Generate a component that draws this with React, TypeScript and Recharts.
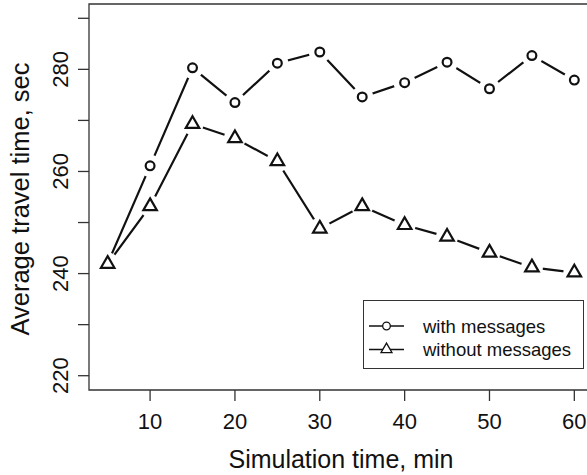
import { LineChart, Line, XAxis, YAxis, ReferenceArea, Legend } from "recharts";

// simulation time (min)
const times = [5, 10, 15, 20, 25, 30, 35, 40, 45, 50, 55, 60];
// average travel time (sec)
const withMessages = [242.0, 261.1, 280.3, 273.5, 281.2, 283.4, 274.6, 277.4, 281.4, 276.2, 282.7, 277.9];
const withoutMessages = [241.9, 253.2, 269.3, 266.5, 262.0, 248.8, 253.2, 249.5, 247.2, 244.1, 241.2, 240.2];

const xTicks = [10, 20, 30, 40, 50, 60];
const yTicks = [220, 230, 240, 250, 260, 270, 280, 290];
const yLabelled = [220, 240, 260, 280];

const data = times.map((t, i) => ({
  t,
  withMsg: withMessages[i],
  withoutMsg: withoutMessages[i],
}));

const FONT = "'Liberation Sans', Arial, Helvetica, sans-serif";
const INK = "#111";

function trianglePath(cx: number, cy: number, w: number) {
  // R-style pch=2: point sits 2/3 of the way down
  const h = (w * Math.sqrt(3)) / 2;
  return `M${cx},${cy - (2 * h) / 3} L${cx + w / 2},${cy + h / 3} L${cx - w / 2},${cy + h / 3} Z`;
}

function CircleDot(props: any) {
  const { cx, cy } = props;
  if (cx == null || cy == null) return null;
  return (
    <g>
      <circle cx={cx} cy={cy} r={11} fill="#fff" />
      <circle cx={cx} cy={cy} r={4.4} fill="#fff" stroke={INK} strokeWidth={2.2} />
    </g>
  );
}

function TriangleDot(props: any) {
  const { cx, cy } = props;
  if (cx == null || cy == null) return null;
  return (
    <g>
      <circle cx={cx} cy={cy} r={11} fill="#fff" />
      <path d={trianglePath(cx, cy, 13.5)} fill="none" stroke={INK} strokeWidth={2.2} strokeLinejoin="miter" />
    </g>
  );
}

function YTick(props: any) {
  const { y, payload } = props;
  if (!yLabelled.includes(payload.value)) return null;
  const x = 68.5;
  return (
    <text
      x={x}
      y={y}
      transform={`rotate(-90, ${x}, ${y})`}
      textAnchor="middle"
      fontSize={22}
      fontFamily={FONT}
      fill={INK}
    >
      {payload.value}
    </text>
  );
}

function XTick(props: any) {
  const { x, payload } = props;
  return (
    <text x={x} y={429} textAnchor="middle" fontSize={22} fontFamily={FONT} fill={INK}>
      {payload.value}
    </text>
  );
}

function LegendBox(props: any) {
  const items = props.payload || [];
  return (
    <div
      style={{
        width: 219,
        height: 67,
        border: "1.3px solid #333",
        background: "#fff",
        position: "relative",
        fontFamily: FONT,
      }}
    >
      <svg width={219} height={67} style={{ position: "absolute", left: 0, top: 0 }}>
        {items.map((it: any, i: number) => {
          const cy = 25 + i * 23.5;
          return (
            <g key={it.value}>
              <line x1={5} x2={40} y1={cy} y2={cy} stroke={INK} strokeWidth={1.3} />
              {it.dataKey === "withMsg" ? (
                <circle cx={22.5} cy={cy} r={3.8} fill="#fff" stroke={INK} strokeWidth={1.3} />
              ) : (
                <path d={trianglePath(22.5, cy, 11)} fill="#fff" stroke={INK} strokeWidth={1.3} />
              )}
              <text x={59} y={cy + 6.5} fontSize={18.5} fontFamily={FONT} fill={INK}>
                {it.value}
              </text>
            </g>
          );
        })}
      </svg>
    </div>
  );
}

export default function App() {
  return (
    <div
      style={{
        position: "absolute",
        left: 0,
        top: 0,
        width: 587,
        height: 475,
        overflow: "hidden",
        background: "#fff",
      }}
    >
      <LineChart width={600} height={475} data={data} margin={{ top: 4, right: 7, bottom: 0, left: 0 }}>
        <XAxis
          dataKey="t"
          type="number"
          domain={[2.8, 62.2]}
          ticks={xTicks}
          allowDataOverflow
          axisLine={false}
          tickLine={{ stroke: "#333", strokeWidth: 1.3 }}
          tickSize={11}
          height={85}
          tick={<XTick />}
          label={{
            content: (p: any) => {
              const vb = p.viewBox;
              return (
                <text x={vb.x + vb.width / 2} y={468} textAnchor="middle" fontSize={25} fontFamily={FONT} fill={INK}>
                  Simulation time, min
                </text>
              );
            },
          }}
        />
        <YAxis
          type="number"
          domain={[217.2, 292.8]}
          ticks={yTicks}
          allowDataOverflow
          axisLine={false}
          tickLine={{ stroke: "#333", strokeWidth: 1.3 }}
          tickSize={11}
          width={89}
          tick={<YTick />}
          label={{
            content: (p: any) => {
              const vb = p.viewBox;
              const cy = vb.y + vb.height / 2 + 2;
              return (
                <text
                  x={28.5}
                  y={cy}
                  transform={`rotate(-90, 28.5, ${cy})`}
                  textAnchor="middle"
                  fontSize={25.5}
                  fontFamily={FONT}
                  fill={INK}
                >
                  Average travel time, sec
                </text>
              );
            },
          }}
        />
        <ReferenceArea x1={2.8} x2={62.2} y1={217.2} y2={292.8} fill="none" stroke="#333" strokeWidth={1.3} />
        <Line
          dataKey="withMsg"
          name="with messages"
          stroke={INK}
          strokeWidth={2.2}
          type="linear"
          dot={<CircleDot />}
          activeDot={false}
          isAnimationActive={false}
        />
        <Line
          dataKey="withoutMsg"
          name="without messages"
          stroke={INK}
          strokeWidth={2.2}
          type="linear"
          dot={<TriangleDot />}
          activeDot={false}
          isAnimationActive={false}
        />
        <Legend
          layout="horizontal"
          verticalAlign="middle"
          align="center"
          content={<LegendBox />}
          wrapperStyle={{ left: 363, top: 300, width: 221, height: 69 }}
        />
      </LineChart>
    </div>
  );
}
